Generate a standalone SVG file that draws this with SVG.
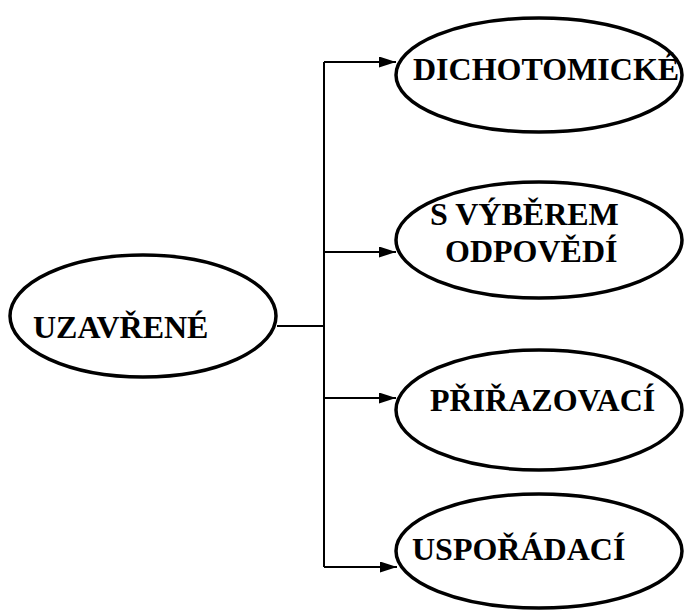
<svg xmlns="http://www.w3.org/2000/svg" width="684" height="610" viewBox="0 0 684 610">
<style>
.node ellipse{fill:#fff;stroke:#000;stroke-width:3.5}
text{font-family:'Liberation Serif','Times New Roman',serif;font-weight:700;font-size:32px;fill:#000}
.conn{fill:none;stroke:#000;stroke-width:2}
</style>
<defs>
<marker id="arr" markerWidth="17" markerHeight="11" refX="17" refY="5.5" orient="auto" markerUnits="userSpaceOnUse">
<path d="M0,0 L17,5.5 L0,11 Z" fill="#000"/>
</marker>
</defs>
<rect width="684" height="610" fill="#fff"/>
<g id="connectors">
<path class="conn" d="M277,326 H324"/>
<path class="conn" d="M324,62 V567"/>
<path class="conn" d="M324,62 H396" marker-end="url(#arr)"/>
<path class="conn" d="M324,252 H396" marker-end="url(#arr)"/>
<path class="conn" d="M324,398 H396" marker-end="url(#arr)"/>
<path class="conn" d="M324,567 H397" marker-end="url(#arr)"/>
</g>
<g id="uzavrene" class="node">
<ellipse cx="143" cy="316" rx="133" ry="61"/>
<text x="33" y="338">UZAVŘENÉ</text>
</g>
<g id="dichotomicke" class="node">
<ellipse cx="539" cy="75" rx="143" ry="57"/>
<text x="413" y="80">DICHOTOMICKÉ</text>
</g>
<g id="s-vyberem" class="node">
<ellipse cx="539" cy="240" rx="143" ry="58"/>
<text x="430" y="225">S VÝBĚREM</text>
<text x="445" y="262">ODPOVĚDÍ</text>
</g>
<g id="prirazovaci" class="node">
<ellipse cx="539" cy="410" rx="143" ry="60"/>
<text x="430" y="411">PŘIŘAZOVACÍ</text>
</g>
<g id="usporadaci" class="node">
<ellipse cx="539" cy="551" rx="143" ry="57"/>
<text x="412" y="560">USPOŘÁDACÍ</text>
</g>
</svg>
